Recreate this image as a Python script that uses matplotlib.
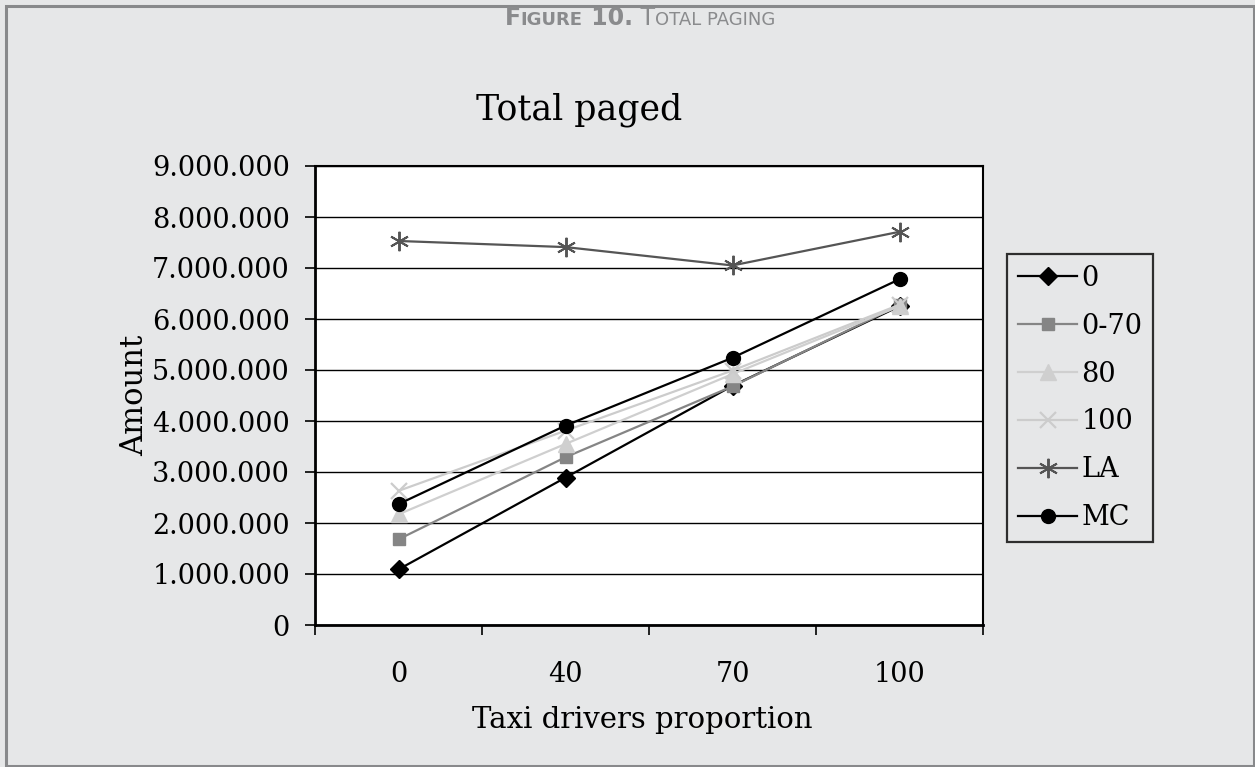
import matplotlib
matplotlib.use("Agg")
import matplotlib.pyplot as plt
from matplotlib.patches import Rectangle
from matplotlib.offsetbox import TextArea, HPacker, AnchoredOffsetbox
from matplotlib.ticker import FixedLocator, FuncFormatter

categories = ["0", "40", "70", "100"]
series_names = ["0", "0-70", "80", "100", "LA", "MC"]
s_0 = [1090000, 2890000, 4690000, 6250000]
s_0_70 = [1680000, 3290000, 4680000, 6270000]
s_80 = [2170000, 3550000, 4920000, 6250000]
s_100 = [2630000, 3810000, 4990000, 6280000]
s_LA = [7530000, 7410000, 7050000, 7710000]
s_MC = [2370000, 3910000, 5240000, 6780000]
y_ticks = [0, 1000000, 2000000, 3000000, 4000000, 5000000, 6000000, 7000000, 8000000, 9000000]

W, H = 1255, 767
fig = plt.figure(figsize=(W / 100, H / 100), dpi=100)
bg = "#e6e7e8"
fig.patch.set_facecolor(bg)
plt.rcParams["font.family"] = ["DejaVu Serif"]

# frame border
fig.patches.append(Rectangle((5.5 / W, 1.5 / H), (1253.5 - 5.5) / W, (761.5 - 1.5) / H,
                             transform=fig.transFigure, fill=False,
                             edgecolor="#88898b", linewidth=2.2))

ax = fig.add_axes([315 / W, 1 - 625 / H, (983 - 315) / W, (625 - 166) / H])
ax.set_facecolor("white")

styles = [
    dict(color="black", marker="D", ms=9, mfc="black", mec="black", lw=1.6),
    dict(color="#858585", marker="s", ms=9, mfc="#858585", mec="#858585", lw=1.6),
    dict(color="#cfcfcf", marker="^", ms=11, mfc="#cfcfcf", mec="#cfcfcf", lw=1.6),
    dict(color="#cccccc", marker="x", ms=12, mfc="#cccccc", mec="#cccccc", lw=1.6, mew=1.6),
    dict(color="#555555", marker=(6, 2, 0), ms=14, mfc="#555555", mec="#555555", lw=1.6, mew=1.4),
    dict(color="black", marker="o", ms=10, mfc="black", mec="black", lw=1.6),
]
data = [s_0, s_0_70, s_80, s_100, s_LA, s_MC]
xs = list(range(len(categories)))
for name, vals, st in zip(series_names, data, styles):
    ax.plot(xs, vals, label=name, zorder=3, **st)

ax.set_xlim(-0.5, len(categories) - 0.5)
ax.set_ylim(0, 9000000)
ax.yaxis.set_major_locator(FixedLocator(y_ticks))
ax.yaxis.set_major_formatter(FuncFormatter(lambda v, p: f"{int(v):,}".replace(",", ".")))
ax.grid(axis="y", color="black", lw=1.0, zorder=1)
ax.set_axisbelow(True)

ax.xaxis.set_major_locator(FixedLocator([i - 0.5 for i in range(len(categories) + 1)]))
ax.xaxis.set_minor_locator(FixedLocator(xs))
ax.set_xticklabels([])
ax.set_xticklabels(categories, minor=True)
ax.tick_params(axis="x", which="major", length=7, width=1.2, direction="out")
ax.tick_params(axis="x", which="minor", length=0, pad=26, labelsize=19.5)
ax.tick_params(axis="y", which="major", length=7, width=1.2, pad=11, labelsize=19.5)
for sp in ["left", "bottom"]:
    ax.spines[sp].set_linewidth(2.0)
for sp in ["top", "right"]:
    ax.spines[sp].set_linewidth(1.5)

fig.text(579 / W, 1 - 110 / H, "Total paged", ha="center", va="center", fontsize=25)
fig.text(135 / W, 1 - 395 / H, "Amount", ha="center", va="center", rotation=90, fontsize=22)
fig.text(642 / W, 1 - 720 / H, "Taxi drivers proportion", ha="center", va="center", fontsize=21)

leg = ax.legend(loc="upper left", bbox_to_anchor=(1007 / W, 1 - 254 / H),
                bbox_transform=fig.transFigure, frameon=True, fancybox=False,
                fontsize=19.5, handlelength=2.2, labelspacing=0.77, borderpad=0.4,
                handletextpad=0.15, borderaxespad=0)
leg.get_frame().set_edgecolor("black")
leg.get_frame().set_linewidth(1.6)
leg.get_frame().set_facecolor(bg)

# header in small caps
gray = "#8a8b8d"
def ta(s, size, weight):
    return TextArea(s, textprops=dict(size=size, weight=weight, color=gray, family="DejaVu Sans"))
parts = [ta("F", 17, "bold"), ta("IGURE", 13, "bold"), ta(" 10.", 17, "bold"),
         ta(" T", 17, "normal"), ta("OTAL PAGING", 13, "normal")]
box = HPacker(children=parts, align="baseline", pad=0, sep=0)
anch = AnchoredOffsetbox(loc="center", child=box, frameon=False,
                         bbox_to_anchor=(640 / W, 1 - 18 / H), bbox_transform=fig.transFigure, pad=0, borderpad=0)
fig.add_artist(anch)

fig.savefig("out.png", dpi=100, facecolor=bg)
